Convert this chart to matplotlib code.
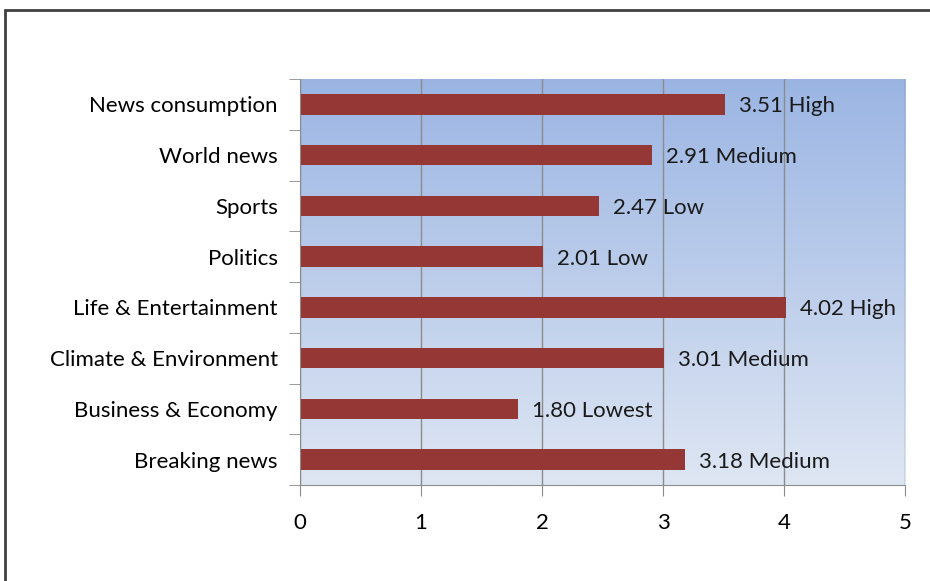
import numpy as np
import matplotlib.pyplot as plt
from matplotlib.patches import Rectangle
from matplotlib.colors import LinearSegmentedColormap

# categories listed bottom to top
categories = ['Breaking news', 'Business & Economy', 'Climate & Environment',
              'Life & Entertainment', 'Politics', 'Sports', 'World news',
              'News consumption']
scores = [3.18, 1.80, 3.01, 4.02, 2.01, 2.47, 2.91, 3.51]
levels = ['Medium', 'Lowest', 'Medium', 'High', 'Low', 'Low', 'Medium', 'High']
xticks = [0, 1, 2, 3, 4, 5]


def main():
    plt.rcParams['font.family'] = ['Lato', 'DejaVu Sans']
    fig = plt.figure(figsize=(9.3, 5.81), dpi=100)
    ax = fig.add_axes([300 / 930, 1 - 485 / 581, 605 / 930, 406 / 581])

    # outer frame, runs off the right and bottom edges
    fig.patches.append(Rectangle((5 / 930, -0.1), 1.2, 1 - 10 / 581 + 0.1,
                                 transform=fig.transFigure, fill=False,
                                 edgecolor='#404040', linewidth=2))

    # vertical gradient background of the plot area
    cmap = LinearSegmentedColormap.from_list('bg', ['#dee6f3', '#9bb5e3'])
    grad = np.linspace(0, 1, 256).reshape(-1, 1)
    ax.imshow(grad, cmap=cmap, origin='lower', aspect='auto',
              extent=[0, 5, -0.5, len(categories) - 0.5], zorder=0)

    y = np.arange(len(categories))
    ax.barh(y, scores, height=0.4, color='#953735', zorder=3)

    for yi, s, lv in zip(y, scores, levels):
        ax.annotate(f'{s:.2f} {lv}', (s, yi), xytext=(10, 0),
                    textcoords='offset points', va='center_baseline',
                    ha='left', fontsize=16, color='#1a1a1a', zorder=4)

    ax.set_xlim(0, 5)
    ax.set_ylim(-0.5, len(categories) - 0.5)
    ax.set_xticks(xticks)
    ax.set_xticklabels([str(t) for t in xticks])
    ax.grid(axis='x', color='#8c8c8c', linewidth=1, zorder=1)
    ax.set_axisbelow(False)

    ax.set_yticks(y)
    ax.set_yticklabels(categories, va='center_baseline')
    ax.set_yticks(np.arange(-0.5, len(categories)), minor=True)
    ax.tick_params(axis='y', which='major', length=0, pad=16, labelsize=16)
    ax.tick_params(axis='y', which='minor', length=8, color='#8c8c8c')
    ax.tick_params(axis='x', length=8, color='#8c8c8c', pad=12, labelsize=16)

    for side in ['top', 'right']:
        ax.spines[side].set_visible(False)
    for side in ['left', 'bottom']:
        ax.spines[side].set_color('#8c8c8c')
        ax.spines[side].set_zorder(5)

    fig.savefig('out.png', dpi=100)


if __name__ == '__main__':
    main()
